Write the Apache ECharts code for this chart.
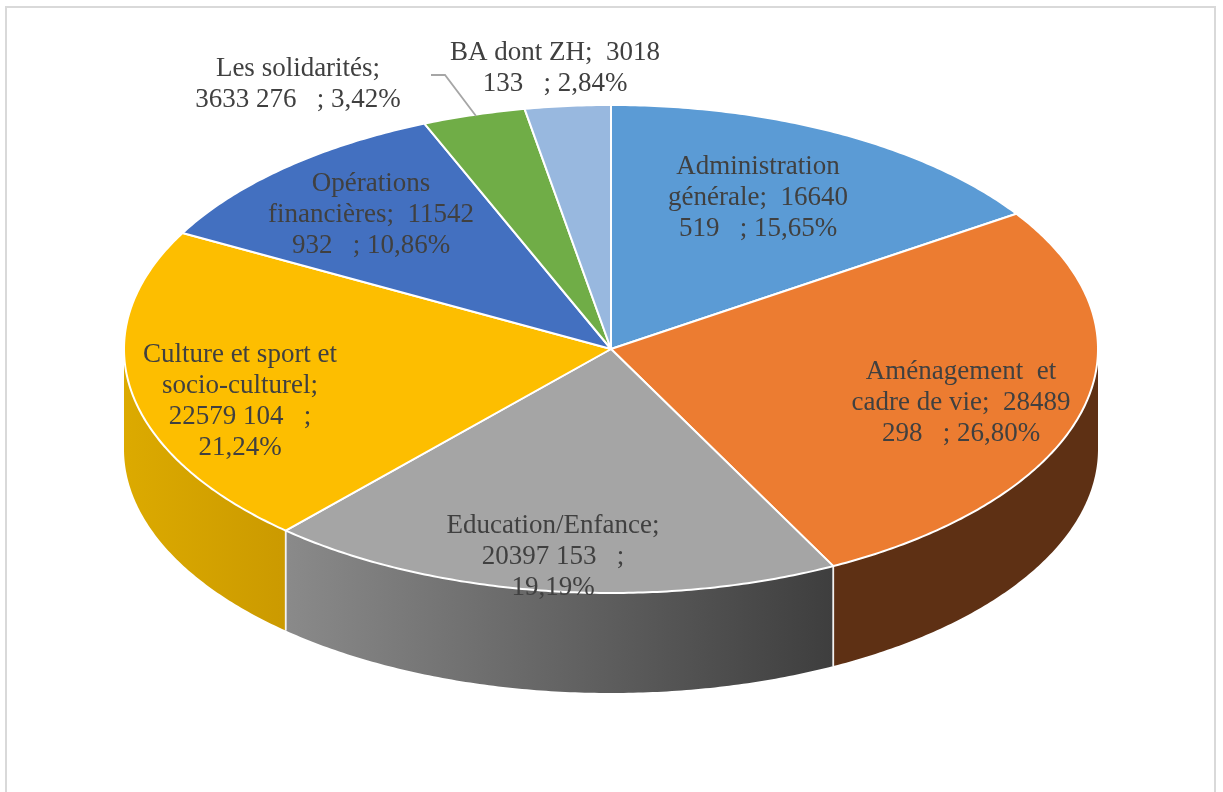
<!DOCTYPE html>
<html>
<head>
<meta charset="utf-8">
<style>html,body{margin:0;padding:0;background:#fff}#c{width:1223px;height:792px}</style>
<script src="https://cdn.jsdelivr.net/npm/echarts@6/dist/echarts.min.js"></script>
</head>
<body>
<div id="c"></div>
<script>
const categories = ['Administration générale','Aménagement et cadre de vie','Education/Enfance','Culture et sport et socio-culturel','Opérations financières','Les solidarités','BA dont ZH'];
const values = [16640519,28489298,20397153,22579104,11542932,3633276,3018133];
const labelTexts = [
  'Administration\ngénérale;  16640\n519   ; 15,65%',
  'Aménagement  et\ncadre de vie;  28489\n298   ; 26,80%',
  'Education/Enfance;\n20397 153   ;\n19,19%',
  'Culture et sport et\nsocio-culturel;\n22579 104   ;\n21,24%',
  'Opérations\nfinancières;  11542\n932   ; 10,86%',
  'Les solidarités;\n3633 276   ; 3,42%',
  'BA dont ZH;  3018\n133   ; 2,84%'
];
const topColors = ['#5b9bd5','#ec7c31','#a5a5a5','#fdbe00','#4370c0','#70ad47','#98b8df'];
const sideStops = [
  ['#3a6a95','#3a6a95'],['#5e3014','#5e3014'],['#8a8a8a','#3e3e3e'],['#dcaa00','#cb9a00'],
  ['#2c4a80','#2c4a80'],['#4a7530','#4a7530'],['#647a95','#647a95']
];
const labelAnchors = [[758,198],[961,403],[553,557],[240,401],[371,215],[298,84],[555,68]];
const leaderIndex = 5;
const leaderPath = [[431,75],[445,75],[476,116]];

const layout = {cx:611, cy:349, rx:487, ry:244, depth:100};
const total = values.reduce((a,b)=>a+b,0);
const starts = [];
values.reduce((acc,v,i)=>{starts[i]=acc; return acc+v;},0);

function pt(theta, dy){
  return [layout.cx + layout.rx*Math.sin(theta), layout.cy - layout.ry*Math.cos(theta) + (dy||0)];
}
function arc(a0, a1, dy){
  const n = Math.max(2, Math.ceil(Math.abs(a1-a0)/0.01));
  const out = [];
  for(let k=0;k<=n;k++) out.push(pt(a0+(a1-a0)*k/n, dy));
  return out;
}
function renderItem(params, api){
  const i = params.dataIndex;
  const v = api.value(1);
  const a0 = starts[i]/total*2*Math.PI;
  const a1 = a0 + v/total*2*Math.PI;
  const children = [];
  const f0 = Math.max(a0, Math.PI/2), f1 = Math.min(a1, 3*Math.PI/2);
  if(f1 > f0){
    const pts = arc(f0,f1,0).concat(arc(f1,f0,layout.depth));
    children.push({type:'polygon', shape:{points:pts}, silent:true, z2:1, style:{
      fill:new echarts.graphic.LinearGradient(0,0,1,0,[{offset:0,color:sideStops[i][0]},{offset:1,color:sideStops[i][1]}]),
      stroke:null}});
    [f0,f1].forEach(a=>{
      if(a>Math.PI/2+1e-6 && a<3*Math.PI/2-1e-6){
        const p=pt(a,0), q=pt(a,layout.depth);
        children.push({type:'line', shape:{x1:p[0],y1:p[1],x2:q[0],y2:q[1]}, silent:true, z2:2, style:{stroke:'#f2f2f2',lineWidth:1.5}});
      }
    });
  }
  children.push({type:'polygon', shape:{points:[[layout.cx,layout.cy]].concat(arc(a0,a1,0))}, silent:true, z2:3,
    style:{fill:topColors[i], stroke:'#ffffff', lineWidth:2, lineJoin:'round'}});
  if(i===leaderIndex){
    children.push({type:'polyline', shape:{points:leaderPath}, silent:true, z2:4, style:{fill:null, stroke:'#a6a6a6', lineWidth:1.8}});
  }
  children.push({type:'text', silent:true, z2:10, x:labelAnchors[i][0], y:labelAnchors[i][1], style:{
    text:labelTexts[i], fill:'#404040', font:'27px "Liberation Serif"', lineHeight:31, align:'center', verticalAlign:'middle'}});
  return {type:'group', children};
}
const chart = echarts.init(document.getElementById('c'), null, {renderer:'canvas'});
chart.setOption({
  animation:false,
  backgroundColor:'#ffffff',
  graphic:[{type:'rect', silent:true, shape:{x:6,y:7,width:1209,height:800}, style:{fill:null, stroke:'#d9d9d9', lineWidth:2}}],
  series:[{type:'custom', coordinateSystem:'none', renderItem, silent:true,
    data:values.map((v,i)=>({name:categories[i], value:[i,v]}))}]
});
</script>
</body>
</html>
